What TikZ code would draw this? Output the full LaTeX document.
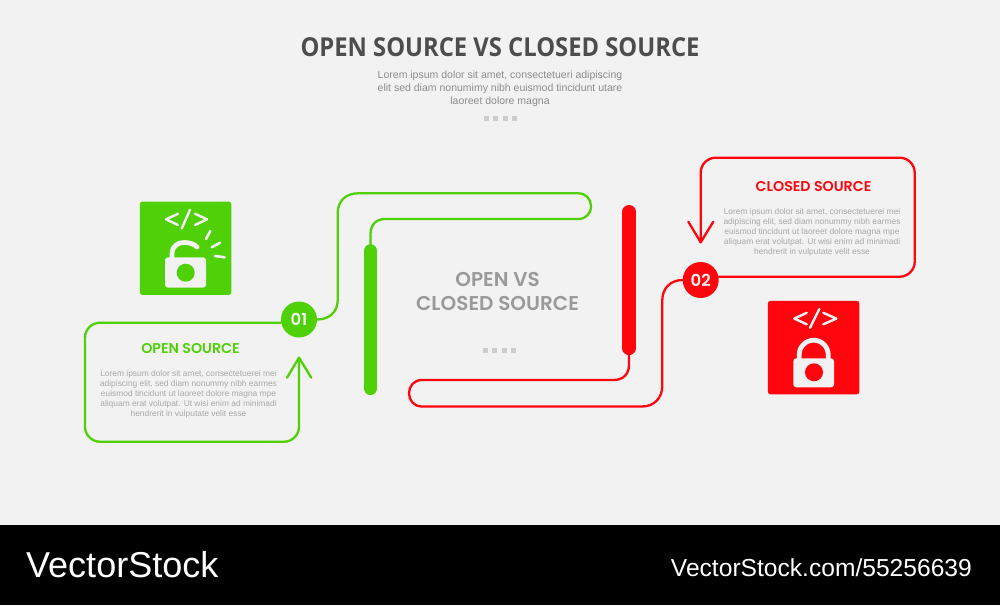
\documentclass[tikz,border=0pt]{standalone}
\usepackage{graphicx}
\usepackage{fontspec}
\setmainfont{Liberation Sans}
\newfontfamily\popp{Poppins SemiBold}
\newfontfamily\opens{Open Sans}
\usetikzlibrary{calc}
\definecolor{bgc}{HTML}{F2F2F2}
\definecolor{grn}{HTML}{4FD007}
\definecolor{rd}{HTML}{FF060E}
\definecolor{ttl}{HTML}{4D4D4D}
\definecolor{bodyg}{HTML}{A8A8A8}
\definecolor{subg}{HTML}{8C8C8C}
\definecolor{midg}{HTML}{9A9A9A}
\definecolor{dotg}{HTML}{CCCCCC}
\tikzset{
  wire/.style={line width=2.3pt,line cap=round,line join=round,rounded corners=#1},
  wire/.default=15pt,
  plainwire/.style={line width=2.3pt,line cap=round,line join=round},
  bar/.style={line width=13.6pt,line cap=round},
  badge/.style={circle,minimum size=36pt,inner sep=0pt,text=bgc,font=\popp\fontsize{16.5}{16}\selectfont},
  head/.style={font=\popp\fontsize{14.2}{14}\selectfont,inner sep=0pt},
  lorem/.style={align=center,text=bodyg,inner sep=0pt,font=\fontsize{8.4}{10}\selectfont},
  icon/.style={rounded corners=2.5pt,minimum width=91.5pt,minimum height=93.3pt,inner sep=0pt},
  glyph/.style={line width=2.4pt,draw=bgc,line cap=round,line join=round},
  lockb/.style={fill=bgc,rounded corners=3pt},
  ray/.style={line width=2.6pt,draw=bgc,line cap=round},
  dots/.style={fill=dotg},
}
\begin{document}
\begin{tikzpicture}[x=1pt,y=-1pt]
\useasboundingbox (0,0) rectangle (1000,605);
\fill[bgc] (0,0) rectangle (1000,525);
\fill[black] (0,525) rectangle (1000,605);
% title
\node[inner sep=0pt,text=ttl,font=\opens\bfseries\fontsize{24.6}{26}\selectfont] (title) at (500,47) {\scalebox{0.966}[1.06]{OPEN SOURCE VS CLOSED SOURCE}};
\node[align=center,inner sep=0pt,text=subg,font=\fontsize{10.5}{12.6}\selectfont] (sub) at (500,88.7) {Lorem ipsum dolor sit amet, consectetueri adipiscing\\elit sed diam nonumimy nibh euismod tincidunt utare\\laoreet dolore magna};
\foreach \i in {0,1,2,3} {\fill[dots] ($(484,116)+(\i*9.4,0)$) rectangle +(5,5);}
% centre
\node[align=center,inner sep=0pt,text=midg,font=\popp\fontsize{20}{24}\selectfont] (mid) at (497.5,291) {OPEN VS\\CLOSED SOURCE};
\foreach \i in {0,1,2,3} {\fill[dots] ($(483,348)+(\i*9.4,0)$) rectangle +(5,5);}
% bars
\coordinate (gt) at (370.5,251); \coordinate (gb) at (370.5,388.3);
\coordinate (rt) at (629,211.8); \coordinate (rb) at (629,348.3);
\draw[bar,grn] (gt) -- (gb);
\draw[bar,rd] (rt) -- (rb);
% badges
\node[badge,fill=grn] (n1) at (299,319.5) {01};
\node[badge,fill=rd] (n2) at (700.7,280) {02};
% green wires
\draw[wire,grn] (n1.west) ++(0,3.2) -- (85,322.7) -- (85,441.7) -- (299,441.7) -- (299,357.7);
\draw[plainwire,grn] (287,377.7) -- (299,357.7) -- (311.3,377.7);
\draw[plainwire,grn] (n1.east)
  .. controls (329,319.5) and (337.7,312) .. (337.7,300) -- (337.7,213)
  .. controls (337.7,201) and (346,193.3) .. (358,193.3) -- (578,193.3)
  .. controls (586,193.3) and (591,199) .. (591,206.2)
  .. controls (591,213.5) and (586,219) .. (578,219) -- (385,219)
  .. controls (376,219) and (370.5,225) .. (370.5,234) -- (gt);
% red wires
\draw[plainwire,rd] (rb) -- (629,365)
  .. controls (629,374) and (623,380) .. (614,380) -- (422,380)
  .. controls (414,380) and (409,386) .. (409,393.2)
  .. controls (409,400.5) and (414,406.5) .. (422,406.5) -- (642,406.5)
  .. controls (654,406.5) and (662.3,398) .. (662.3,386) -- (662.3,300)
  .. controls (662.3,288) and (671,280) .. (n2.west);
\draw[wire,rd] (n2.east) ++(0,-3.3) -- (914.7,276.7) -- (914.7,157.7) -- (700.7,157.7) -- (700.7,242.3);
\draw[plainwire,rd] (688.3,221.7) -- (700.7,242.3) -- (713.3,221.7);
% headings and text
\node[head,text=grn] (h1) at (190.5,348.5) {OPEN SOURCE};
\node[lorem] (t1) at (188.5,394.3) {Lorem ipsum dolor sit amet, consectetuerei mei\\adipiscing elit, sed diam nonummy nibh earmes\\euismod tincidunt ut laoreet dolore magna mpe\\aliquam erat volutpat. Ut wisi enim ad minimadi\\hendrerit in vulputate velit esse};
\node[head,text=rd] (h2) at (813.5,186.5) {CLOSED SOURCE};
\node[lorem] (t2) at (812,232.3) {Lorem ipsum dolor sit amet, consectetuerei mei\\adipiscing elit, sed diam nonummy nibh earmes\\euismod tincidunt ut laoreet dolore magna mpe\\aliquam erat volutpat. Ut wisi enim ad minimadi\\hendrerit in vulputate velit esse};
% green icon
\node[icon,fill=grn] (ic1) at (185.5,248.3) {};
\begin{scope}[shift={(ic1.center)}]
  \draw[glyph] (-7.5,-34.5) -- (-19.5,-29) -- (-7.5,-23.3);
  \draw[glyph] (9.5,-34.5) -- (21.5,-29) -- (9.5,-23.3);
  \draw[glyph] (4.5,-38.5) -- (-3.8,-19.8);
  \draw[line width=4.8pt,draw=bgc,line cap=round] (-13.5,12) -- (-13.5,5.7)
    .. controls (-13.5,-2.3) and (-7.5,-5.8) .. (-1.5,-5.8)
    .. controls (4.5,-5.8) and (8.5,-4.3) .. (11.5,-1.3);
  \fill[lockb] (-20.5,9) rectangle (20.5,39.4);
  \fill[grn] (0.2,24.4) circle (9);
  \draw[ray] (20.5,-9.3) -- (24.8,-17.3);
  \draw[ray] (26.2,-1) -- (34.5,-5.6);
  \draw[ray] (29.5,7.7) -- (39.2,9);
\end{scope}
% red icon
\node[icon,fill=rd] (ic2) at (813.6,347.6) {};
\begin{scope}[shift={(ic2.center)}]
  \draw[glyph] (-6.9,-34.8) -- (-19.3,-29) -- (-6.9,-23.3);
  \draw[glyph] (9.7,-34.8) -- (22.7,-29) -- (9.7,-23.3);
  \draw[glyph] (5.7,-38.5) -- (-3.6,-19.8);
  \draw[line width=4.8pt,draw=bgc] (-14.4,14) -- (-14.4,7.1) arc[start angle=180,end angle=360,radius=14.5] -- (14.6,14);
  \fill[lockb] (-20.3,10.7) rectangle (20.4,39.7);
  \fill[rd] (0.4,24.7) circle (9);
\end{scope}
% footer
\node[anchor=base west,inner sep=0pt,text=white,font=\fontsize{36}{38}\selectfont] (vs) at (26,577.5) {VectorStock};
\node[anchor=base east,inner sep=0pt,text=white,font=\fontsize{24.6}{26}\selectfont] (url) at (972,576) {VectorStock.com/55256639};
\end{tikzpicture}
\end{document}
